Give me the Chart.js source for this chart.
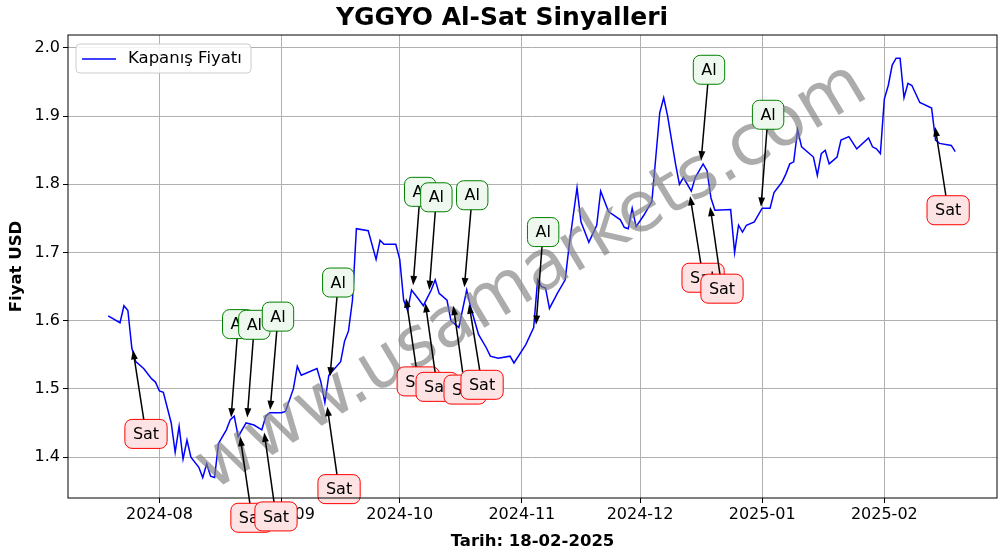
<!DOCTYPE html>
<html>
<head>
<meta charset="utf-8">
<script src="https://cdn.jsdelivr.net/npm/chart.js@4.4.1/dist/chart.umd.min.js"></script>
<style>
  body { margin: 0; background: #fff; }
  #wrap { width: 1006px; height: 554px; }
</style>
</head>
<body>
<div id="wrap"><canvas id="c"></canvas></div>
<script>
// days counted from 2024-07-19
const START = Date.UTC(2024, 6, 19);
const dayOffsets = [0,3,4,5,6,7,9,11,12,13,14,16,17,18,19,20,21,23,24,25,26,27,28,30,31,32,33,35,37,39,40,41,44,45,47,48,49,53,54,55,56,59,60,61,62,63,66,68,69,70,73,74,75,76,77,79,80,82,83,84,86,87,89,91,92,94,96,97,99,102,103,106,108,109,110,111,112,114,116,117,119,120,121,122,124,125,127,130,131,132,133,134,136,138,139,140,141,142,143,144,145,146,148,149,151,152,153,154,158,159,160,161,162,164,166,168,169,171,172,173,174,175,176,179,180,181,182,183,185,186,188,190,193,194,195,196,197,198,199,200,201,202,203,204,206,209,210,211,214,215];
const closePrices = [1.607,1.597,1.622,1.615,1.56,1.54,1.53,1.515,1.51,1.497,1.495,1.45,1.407,1.445,1.397,1.425,1.40,1.385,1.37,1.39,1.372,1.37,1.42,1.44,1.455,1.46,1.43,1.45,1.447,1.44,1.46,1.465,1.465,1.467,1.50,1.533,1.52,1.53,1.51,1.48,1.52,1.54,1.57,1.585,1.63,1.735,1.732,1.69,1.718,1.712,1.712,1.69,1.63,1.615,1.645,1.63,1.622,1.645,1.66,1.64,1.63,1.60,1.59,1.645,1.62,1.58,1.56,1.548,1.545,1.548,1.538,1.565,1.59,1.66,1.65,1.648,1.618,1.64,1.66,1.71,1.795,1.745,1.73,1.715,1.74,1.79,1.76,1.748,1.737,1.735,1.765,1.738,1.755,1.775,1.84,1.905,1.927,1.90,1.865,1.83,1.80,1.81,1.79,1.81,1.83,1.82,1.78,1.762,1.763,1.70,1.74,1.73,1.74,1.745,1.765,1.765,1.788,1.803,1.815,1.83,1.833,1.88,1.855,1.84,1.813,1.845,1.85,1.83,1.84,1.865,1.87,1.852,1.868,1.855,1.852,1.845,1.925,1.945,1.975,1.985,1.985,1.927,1.948,1.945,1.92,1.912,1.865,1.86,1.857,1.848];

const tickDays = [13, 44, 74, 105, 135, 166, 197];
const tickLabels = ['2024-08','2024-09','2024-10','2024-11','2024-12','2025-01','2025-02'];
const yTicks = [1.4, 1.5, 1.6, 1.7, 1.8, 1.9, 2.0];

// signals: label, text position (day, price), arrow target (day, price)
const sigLabels = ['Sat','Al','Al','Al','Sat','Sat','Al','Sat','Al','Al','Al','Sat','Sat','Sat','Sat','Al','Sat','Sat','Al','Al','Sat'];
const sigTextDay = [9.6,33.0,37.1,43.1,36.5,42.6,58.4,58.6,79.2,83.3,92.4,78.7,83.5,90.6,94.9,110.4,151,155.8,152.5,167.5,213.2];
const sigTextPrice = [1.434,1.595,1.594,1.606,1.311,1.313,1.656,1.353,1.789,1.781,1.784,1.511,1.503,1.499,1.506,1.730,1.663,1.647,1.968,1.902,1.762];
const sigDay = [6.3,31.2,35.3,41.1,33.5,39.6,56.3,55.6,77.4,81.5,90.4,75.6,80.5,87.6,91.6,108.6,147.7,152.8,150.5,165.7,209.9];
const sigPrice = [1.557,1.458,1.458,1.469,1.430,1.436,1.518,1.474,1.652,1.645,1.649,1.633,1.626,1.622,1.624,1.594,1.783,1.767,1.835,1.767,1.884];

const FONT = 'DejaVu Sans';

function roundRect(ctx, x, y, w, h, r) {
  ctx.beginPath();
  ctx.moveTo(x + r, y);
  ctx.arcTo(x + w, y, x + w, y + h, r);
  ctx.arcTo(x + w, y + h, x, y + h, r);
  ctx.arcTo(x, y + h, x, y, r);
  ctx.arcTo(x, y, x + w, y, r);
  ctx.closePath();
}

const overlay = {
  id: 'overlay',
  afterDatasetsDraw(chart) {
    const { ctx, scales: { x, y }, chartArea: a } = chart;
    ctx.save();
    // watermark
    ctx.save();
    ctx.translate(532, 278);
    ctx.rotate(-31 * Math.PI / 180);
    ctx.font = '70px ' + FONT;
    ctx.fillStyle = 'rgba(128,128,128,0.65)';
    ctx.textAlign = 'center';
    ctx.textBaseline = 'middle';
    ctx.fillText('www.usamarkets.com', 0, 0);
    ctx.restore();

    // signals
    ctx.font = '16px ' + FONT;
    sigLabels.forEach((lab, i) => {
      const tx = x.getPixelForValue(sigTextDay[i]);
      const ty = y.getPixelForValue(sigTextPrice[i]);
      const px = x.getPixelForValue(sigDay[i]);
      const py = y.getPixelForValue(sigPrice[i]);
      const ang = Math.atan2(py - ty, px - tx);
      ctx.strokeStyle = '#000';
      ctx.fillStyle = '#000';
      ctx.lineWidth = 1.5;
      ctx.beginPath();
      ctx.moveTo(tx, ty);
      ctx.lineTo(px - 8 * Math.cos(ang), py - 8 * Math.sin(ang));
      ctx.stroke();
      ctx.beginPath();
      ctx.moveTo(px, py);
      ctx.lineTo(px - 10 * Math.cos(ang - 0.35), py - 10 * Math.sin(ang - 0.35));
      ctx.lineTo(px - 10 * Math.cos(ang + 0.35), py - 10 * Math.sin(ang + 0.35));
      ctx.closePath();
      ctx.fill();

      const w = ctx.measureText(lab).width + 16;
      const h = 29;
      roundRect(ctx, tx - w / 2, ty - h / 2, w, h, 7);
      ctx.fillStyle = lab === 'Al' ? '#eef8ee' : '#fde3e3';
      ctx.fill();
      ctx.strokeStyle = lab === 'Al' ? 'green' : 'red';
      ctx.lineWidth = 1;
      ctx.stroke();
      ctx.fillStyle = '#000';
      ctx.textAlign = 'center';
      ctx.textBaseline = 'middle';
      ctx.fillText(lab, tx, ty + 1);
    });

    // legend
    ctx.fillStyle = 'rgba(255,255,255,0.85)';
    roundRect(ctx, a.left + 8, a.top + 9, 175, 29, 4);
    ctx.fill();
    ctx.strokeStyle = '#cccccc';
    ctx.stroke();
    ctx.strokeStyle = 'blue';
    ctx.lineWidth = 1.5;
    ctx.beginPath();
    ctx.moveTo(a.left + 14, a.top + 24);
    ctx.lineTo(a.left + 48, a.top + 24);
    ctx.stroke();
    ctx.fillStyle = '#000';
    ctx.font = '16.5px ' + FONT;
    ctx.textAlign = 'left';
    ctx.textBaseline = 'middle';
    ctx.fillText('Kapanış Fiyatı', a.left + 60, a.top + 24);
    ctx.restore();
  },
  afterDraw(chart) {
    const { ctx, chartArea: a } = chart;
    ctx.save();
    ctx.strokeStyle = '#000';
    ctx.lineWidth = 1;
    ctx.strokeRect(a.left, a.top, a.right - a.left, a.bottom - a.top);
    ctx.restore();
  }
};

new Chart(document.getElementById('c'), {
  type: 'line',
  data: {
    datasets: [{
      label: 'Kapanış Fiyatı',
      data: dayOffsets.map((d, i) => ({ x: d, y: closePrices[i] })),
      borderColor: 'blue',
      borderWidth: 1.5,
      pointRadius: 0,
      tension: 0
    }]
  },
  options: {
    responsive: true,
    maintainAspectRatio: false,
    animation: false,
    layout: { padding: { top: 1, right: 9, left: 7, bottom: 2 } },
    plugins: {
      legend: { display: false },
      tooltip: { enabled: false },
      title: {
        display: true,
        text: 'YGGYO Al-Sat Sinyalleri',
        color: '#000',
        font: { family: FONT, size: 25, weight: 'bold' },
        padding: { top: 2, bottom: 2 }
      }
    },
    scales: {
      x: {
        type: 'linear',
        min: -10.2,
        max: 225.6,
        afterBuildTicks: s => { s.ticks = tickDays.map(v => ({ value: v })); },
        afterFit: s => { s.height = 54; },
        ticks: {
          color: '#000',
          font: { family: FONT, size: 16 },
          maxRotation: 0,
          padding: 2,
          callback: v => tickLabels[tickDays.indexOf(v)]
        },
        grid: { color: '#b0b0b0', drawTicks: true, tickLength: 5, tickColor: '#000' },
        border: { display: false },
        title: { display: true, text: 'Tarih: 18-02-2025', color: '#000', font: { family: FONT, size: 16.5, weight: 'bold' }, padding: 0 }
      },
      y: {
        min: 1.340,
        max: 2.019,
        afterBuildTicks: s => { s.ticks = yTicks.map(v => ({ value: v })); },
        afterFit: s => { s.width = 61; },
        ticks: { color: '#000', font: { family: FONT, size: 16 }, padding: 3, callback: v => v.toFixed(1) },
        grid: { color: '#b0b0b0', tickLength: 5, tickColor: '#000' },
        border: { display: false },
        title: { display: true, text: 'Fiyat USD', color: '#000', font: { family: FONT, size: 16.5, weight: 'bold' }, padding: 0 }
      }
    }
  },
  plugins: [overlay]
});
</script>
</body>
</html>
